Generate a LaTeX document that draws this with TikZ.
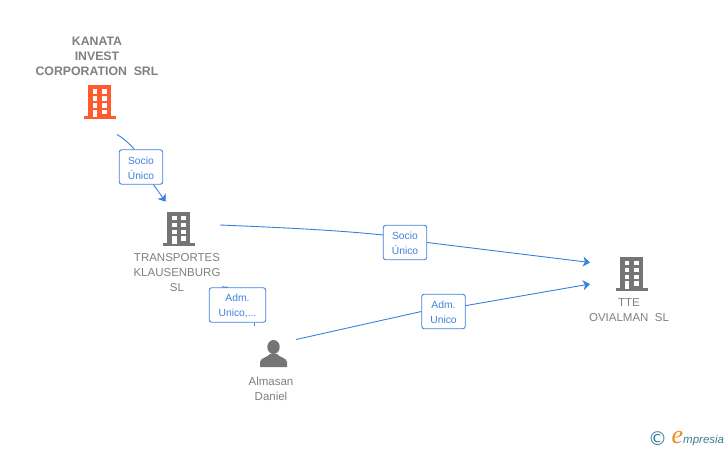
\documentclass[tikz,border=0pt]{standalone}
\usepackage{fontspec}
\setmainfont{Liberation Sans}
\newfontfamily\symbolfont{DejaVu Sans}
\newfontfamily\logofont{Liberation Serif}
\usetikzlibrary{arrows.meta}
\definecolor{namecolor}{HTML}{808080}
\definecolor{iconcolor}{HTML}{757575}
\definecolor{rootcolor}{HTML}{FF5B2E}
\definecolor{linkcolor}{HTML}{3A80E0}
\definecolor{rolecolor}{HTML}{3F82DD}
\definecolor{logocolor}{HTML}{3B7F96}
\definecolor{logoorange}{HTML}{F08A1D}
\newcommand{\rolelines}[2]{\rule{0pt}{9.5pt}#1\\#2}
\tikzset{
  namelabel/.style={anchor=north, align=center, text=namecolor, inner sep=0pt,
    font=\fontsize{11.5}{15}\selectfont},
  rolebox/.style={draw=rolecolor, fill=white, rounded corners=2.5pt, line width=0.9pt,
    minimum height=34.5pt, inner sep=0pt, align=center, text=rolecolor,
    font=\fontsize{10.3}{15}\selectfont},
  linkline/.style={linkcolor, line width=0.9pt},
  linkarrow/.style={linkline, -{Stealth[length=7pt,width=10pt,inset=2pt]}},
  pics/buildingicon/.style={code={
    \fill[#1] (-11.5,0) rectangle (11.5,32);
    \fill[#1] (-16,31) rectangle (16,34);
    \foreach \y in {4,11,18} {
      \fill[white] (-6.8,\y) rectangle (-2.2,\y+4.5);
      \fill[white] (2.2,\y) rectangle (7.2,\y+4.5);
    }
    \fill[white] (-6.8,24.5) rectangle (-2.2,32);
    \fill[white] (2.2,24.5) rectangle (7.2,29);
  }},
  pics/personicon/.style={code={
    \fill[#1] (0,-13) ellipse (6.2 and 7);
    \fill[#1] (-13.5,7) -- (-13.5,2) .. controls (-13.5,-2) and (-5,-3) .. (-3.5,-6)
      -- (3.5,-6) .. controls (5,-3) and (13.5,-2) .. (13.5,2) -- (13.5,7) -- cycle;
  }},
}
\begin{document}
\begin{tikzpicture}[x=1pt, y=-1pt]
  \useasboundingbox (0,0) rectangle (728,450);
  \fill[white] (0,0) rectangle (728,450);

  % companies and person
  \node[namelabel, font=\bfseries\fontsize{12.3}{15}\selectfont] (kanataname) at (97,37)
    {KANATA\\INVEST\\CORPORATION\ \ SRL};
  \pic at (99.5,85) {buildingicon=rootcolor};

  \pic at (178.7,211.5) {buildingicon=iconcolor};
  \node[namelabel] (transportesname) at (177,253.5) {TRANSPORTES\\KLAUSENBURG\\SL};

  \pic at (631.5,256.5) {buildingicon=iconcolor};
  \node[namelabel] (ttename) at (629,298.5) {TTE\\OVIALMAN\ \ SL};

  \pic at (273.5,360) {personicon=iconcolor};
  \node[namelabel] (almasanname) at (271,376.5) {Almasan\\Daniel};

  % role boxes
  \node[rolebox, minimum width=43.5pt] (sociotop) at (141,167) {\rolelines{Socio}{Único}};
  \node[rolebox, minimum width=43.5pt] (sociomid) at (405,242.5) {\rolelines{Socio}{Único}};
  \node[rolebox, minimum width=56.5pt] (admleft) at (237.5,305) {\rolelines{Adm.}{Unico,...}};
  \node[rolebox, minimum width=43.5pt] (admright) at (443.5,311.5) {\rolelines{Adm.}{Unico}};

  % free ends
  \coordinate (kanataout) at (117,134.5);
  \coordinate (sociotopin) at (134.3,149.3);
  \coordinate (transportesin) at (165.7,201.7);
  \coordinate (transportesout) at (220,225);
  \coordinate (sociomidin) at (383.3,235);
  \coordinate (tteupper) at (590,262.5);
  \coordinate (admstubtop) at (222,286.8);
  \coordinate (admstubbot) at (254.5,325.5);
  \coordinate (almasanout) at (296,339.5);
  \coordinate (admrightout) at (465.2,305.7);
  \coordinate (ttelower) at (590,284);

  % links
  \draw[linkline] (kanataout) .. controls (123,138) and (129,143) .. (sociotopin);
  \draw[linkarrow] (sociotop.south -| 153.5,0) -- (transportesin);
  \draw[linkline] (transportesout) .. controls (280,227.5) and (335,230) .. (sociomidin);
  \draw[linkarrow] (sociomid.east) -- (tteupper);
  \draw[linkline] (admstubtop) -- (admleft.north -| 228,0);
  \draw[linkline] (admleft.south -| 254.5,0) -- (admstubbot);
  \draw[linkline] (almasanout) -- (admright.west);
  \draw[linkarrow] (admrightout) -- (ttelower);

  % logo
  \node[anchor=center, inner sep=0pt, text=logocolor, font=\symbolfont\fontsize{19}{19}\selectfont]
    (logosign) at (657.5,439) {©};
  \node[anchor=base west, inner sep=0pt, text=logocolor, font=\itshape\fontsize{11.5}{13}\selectfont]
    (logoname) at (671.5,443.5) {\textcolor{logoorange}{\logofont\fontsize{26}{26}\selectfont e}mpresia};
\end{tikzpicture}
\end{document}
